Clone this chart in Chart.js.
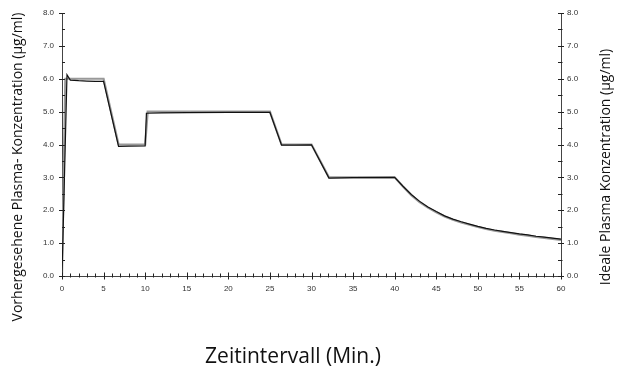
<!DOCTYPE html>
<html>
<head>
<meta charset="utf-8">
<script src="https://cdn.jsdelivr.net/npm/chart.js@4.4.1/dist/chart.umd.min.js"></script>
<style>
  html, body { margin: 0; padding: 0; background: #fff; }
  #wrap { width: 625px; height: 369px; position: relative; }
</style>
</head>
<body>
<div id="wrap"><canvas id="c" width="625" height="369"></canvas></div>
<script>
// Zeitpunkte (Min.) und Konzentrationen (µg/ml)
const zeitIdeal = [0, 0.4, 5, 6.8, 10, 10.3, 25, 26.4, 30, 32.1, 40,
  41, 42, 43, 44, 45, 46, 47, 48, 49, 50, 51, 52, 53, 54, 55, 56, 57, 58, 59, 60];
const idealWerte = [0, 6.0, 6.0, 4.0, 4.0, 5.0, 5.0, 4.0, 4.0, 3.0, 3.0,
  2.72, 2.46, 2.25, 2.08, 1.94, 1.81, 1.71, 1.63, 1.56, 1.49, 1.43, 1.38, 1.34, 1.30, 1.26, 1.23, 1.19, 1.16, 1.13, 1.10];

const zeitVorhergesehen = [0, 0.6, 1.0, 2, 3, 4, 5, 6.8, 8, 10, 10.15, 12, 15, 20, 25, 26.4, 28, 30, 32.1, 35, 40,
  41, 42, 43, 44, 45, 46, 47, 48, 49, 50, 51, 52, 53, 54, 55, 56, 57, 58, 59, 60];
const vorhergesehenWerte = [0, 6.12, 5.96, 5.94, 5.93, 5.92, 5.92, 3.94, 3.95, 3.96, 4.95, 4.96, 4.97, 4.98, 4.98, 3.98, 3.98, 3.99, 2.98, 2.99, 3.0,
  2.73, 2.48, 2.27, 2.10, 1.96, 1.83, 1.73, 1.65, 1.58, 1.51, 1.45, 1.40, 1.36, 1.32, 1.28, 1.25, 1.21, 1.18, 1.15, 1.12];

const xTicks = [0, 5, 10, 15, 20, 25, 30, 35, 40, 45, 50, 55, 60];
const yTicks = [0, 1, 2, 3, 4, 5, 6, 7, 8];

const titelLinks = 'Vorhergesehene Plasma- Konzentration (µg/ml)';
const titelRechts = 'Ideale Plasma Konzentration (µg/ml)';
const titelUnten = 'Zeitintervall (Min.)';

const toPoints = (xs, ys) => xs.map((x, i) => ({ x: x, y: ys[i] }));

const tickFont = { family: 'Liberation Sans', size: 8 };
const axisColor = '#444';

// Minor/major tick marks and axis titles
const axisDecor = {
  id: 'axisDecor',
  afterDraw(chart) {
    const ctx = chart.ctx;
    const xs = chart.scales.x, yl = chart.scales.y, yr = chart.scales.y2;
    const area = chart.chartArea;
    ctx.save();
    ctx.strokeStyle = '#222';
    ctx.lineWidth = 1;
    ctx.beginPath();
    for (let m = 0; m <= 60; m++) {
      const px = Math.round(xs.getPixelForValue(m)) + 0.5;
      const major = m % 5 === 0;
      const up = major ? 3.5 : 2.5, down = major ? 3.5 : 1.5;
      ctx.moveTo(px, area.bottom - up);
      ctx.lineTo(px, area.bottom + down);
    }
    for (let k = 0; k <= 16; k++) {
      const v = k / 2;
      const major = k % 2 === 0;
      const pl = Math.round(yl.getPixelForValue(v)) + 0.5;
      ctx.moveTo(area.left - (major ? 3 : 0), pl);
      ctx.lineTo(area.left + 3, pl);
      const pr = Math.round(yr.getPixelForValue(v)) + 0.5;
      ctx.moveTo(area.right - 3, pr);
      ctx.lineTo(area.right + (major ? 3 : 1.5), pr);
    }
    ctx.stroke();

    ctx.fillStyle = '#111';
    ctx.textAlign = 'center';
    ctx.textBaseline = 'middle';
    ctx.font = '14px "Open Sans"';
    ctx.save();
    ctx.translate(18, 167);
    ctx.rotate(-Math.PI / 2);
    ctx.fillText(titelLinks, 0, 0);
    ctx.restore();
    ctx.save();
    ctx.translate(606, 167);
    ctx.rotate(-Math.PI / 2);
    ctx.fillText(titelRechts, 0, 0);
    ctx.restore();
    ctx.font = '21px "Open Sans"';
    ctx.fillText(titelUnten, 293, 357);
    ctx.restore();
  }
};

new Chart(document.getElementById('c'), {
  type: 'line',
  data: {
    datasets: [
      {
        label: 'Vorhergesehen',
        data: toPoints(zeitVorhergesehen, vorhergesehenWerte),
        borderColor: '#111',
        borderWidth: 1.2,
        pointRadius: 0,
        tension: 0,
        fill: false,
        yAxisID: 'y'
      },
      {
        label: 'Ideal',
        data: toPoints(zeitIdeal, idealWerte),
        borderColor: '#999',
        borderWidth: 2.2,
        pointRadius: 0,
        tension: 0,
        fill: false,
        yAxisID: 'y2'
      }
    ]
  },
  options: {
    responsive: false,
    animation: false,
    events: [],
    layout: { padding: { top: 13, left: 0, right: 0, bottom: 0 } },
    plugins: { legend: { display: false }, tooltip: { enabled: false } },
    scales: {
      x: {
        type: 'linear',
        min: 0, max: 60,
        afterBuildTicks: s => { s.ticks = xTicks.map(v => ({ value: v })); },
        afterFit: s => { s.height = 93; },
        grid: { display: false, drawTicks: false },
        border: { display: true, color: axisColor, width: 1 },
        ticks: { font: tickFont, color: '#333', padding: 8, maxRotation: 0, autoSkip: false }
      },
      y: {
        position: 'left',
        min: 0, max: 8,
        afterBuildTicks: s => { s.ticks = yTicks.map(v => ({ value: v })); },
        afterFit: s => { s.width = 62; },
        grid: { display: false, drawTicks: false },
        border: { display: true, color: axisColor, width: 1 },
        ticks: { font: tickFont, color: '#333', padding: 8, callback: v => Number(v).toFixed(1) }
      },
      y2: {
        position: 'right',
        min: 0, max: 8,
        afterBuildTicks: s => { s.ticks = yTicks.map(v => ({ value: v })); },
        afterFit: s => { s.width = 64; },
        grid: { display: false, drawTicks: false },
        border: { display: true, color: axisColor, width: 1 },
        ticks: { font: tickFont, color: '#333', padding: 6, callback: v => Number(v).toFixed(1) }
      }
    }
  },
  plugins: [axisDecor]
});
</script>
</body>
</html>
